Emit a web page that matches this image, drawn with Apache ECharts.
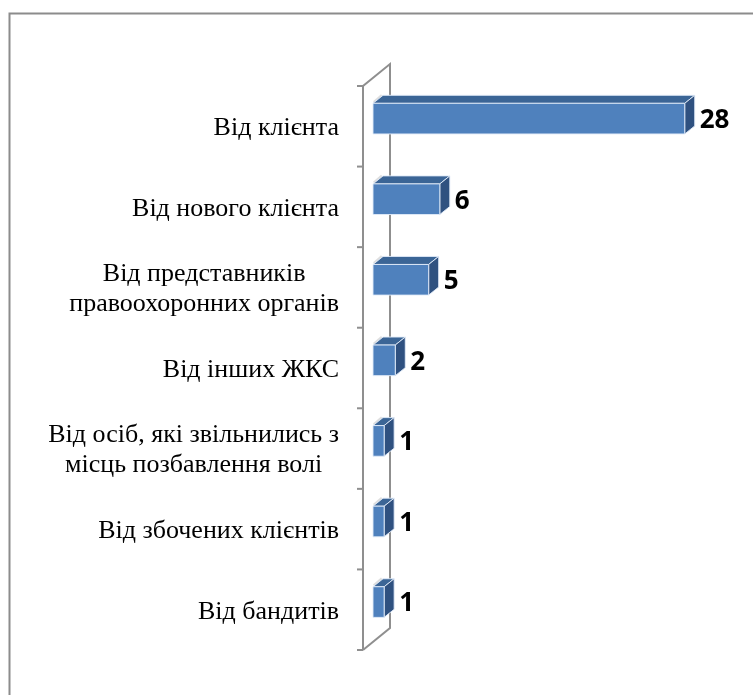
<!DOCTYPE html>
<html>
<head>
<meta charset="utf-8">
<script src="https://cdn.jsdelivr.net/npm/echarts@6/dist/echarts.min.js"></script>
<style>
html,body{margin:0;padding:0;background:#fff;}
#chart{width:753px;height:695px;}
</style>
</head>
<body>
<div id="chart"></div>
<script>
const categories = [
  'Від клієнта',
  'Від нового клієнта',
  'Від представників\nправоохоронних органів',
  'Від інших ЖКС',
  'Від осіб, які звільнились з\nмісць позбавлення волі',
  'Від збочених клієнтів',
  'Від бандитів'
];
const values = [28, 6, 5, 2, 1, 1, 1];

const chart = echarts.init(document.getElementById('chart'), null, {renderer: 'canvas'});

const DX = 10, DY = 8;
const WALL = '#8f8f8f';

function wallItem(params, api) {
  const p = api.coord([0, 0]);
  const band = api.size([0, 1])[1];
  const top = p[1] - band / 2;
  const n = categories.length;
  const bottom = top + band * n;
  const fx = p[0] - 10, bx = fx + 27;
  const children = [{
    type: 'polyline',
    shape: {points: [[fx, bottom], [fx, top], [bx, top - 22], [bx, bottom - 22], [fx, bottom]]},
    style: {stroke: WALL, lineWidth: 2, fill: null}
  }];
  for (let i = 0; i <= n; i++) {
    const y = top + band * i;
    children.push({type: 'line', shape: {x1: fx - 6, y1: y, x2: fx, y2: y},
                   style: {stroke: WALL, lineWidth: 2}});
  }
  return {type: 'group', children: children};
}

function barItem(params, api) {
  const v = api.value(0), c = api.value(1);
  const p0 = api.coord([0, c]);
  const p1 = api.coord([v, c]);
  const band = api.size([0, 1])[1];
  const ft = p0[1] - band * 0.285;
  const fb = ft + band * 0.38;
  const x0 = p0[0], x1 = p1[0];
  const edge = 'rgba(225,235,248,0.9)';
  return {
    type: 'group',
    children: [
      {type: 'line', shape: {x1: x0 + 1, y1: ft - 1, x2: x0 + 9, y2: ft - 8},
       style: {stroke: '#d6d6d6', lineWidth: 3, opacity: 0.8}},
      {type: 'polygon', shape: {points: [[x0, ft], [x1, ft], [x1 + DX, ft - DY], [x0 + DX, ft - DY]]},
       style: {fill: '#3b6596', stroke: edge, lineWidth: 1}},
      {type: 'polygon', shape: {points: [[x1, ft], [x1 + DX, ft - DY], [x1 + DX, fb - DY], [x1, fb]]},
       style: {fill: '#2f5180', stroke: edge, lineWidth: 1}},
      {type: 'rect', shape: {x: x0, y: ft, width: x1 - x0, height: fb - ft},
       style: {fill: '#4f81bd', stroke: edge, lineWidth: 1}},
      {type: 'text', x: x1 + DX + 5, y: (ft + fb) / 2 + 2,
       style: {text: String(v), fill: '#000', font: 'bold 26px "Open Sans", sans-serif',
               textAlign: 'left', textVerticalAlign: 'middle'}}
    ]
  };
}

const LABEL_FONT = '"Liberation Serif", "Times New Roman", serif';

const option = {
  animation: false,
  backgroundColor: '#fff',
  graphic: [{
    type: 'rect', left: 7, top: 11, z: 0,
    shape: {x: 0, y: 0, width: 900, height: 900},
    style: {fill: null, stroke: '#8c8c8c', lineWidth: 2}
  }],
  grid: {left: 373, right: 46, top: 86, bottom: 45, containLabel: false},
  xAxis: {type: 'value', min: 0, max: 30, show: false},
  yAxis: {
    type: 'category',
    data: categories,
    inverse: true,
    axisLine: {show: false},
    axisTick: {show: false},
    splitLine: {show: false},
    axisLabel: {
      margin: 34,
      color: '#000',
      fontSize: 26,
      fontFamily: LABEL_FONT,
      lineHeight: 30,
      align: 'right',
      padding: [4, 0, 0, 0],
      formatter: function (val) {
        const lines = val.split('\n');
        if (lines.length === 1) return val;
        return lines.map(l => '{c|' + l + '}').join('\n');
      },
      rich: {
        c: {align: 'center', fontSize: 26, lineHeight: 30, color: '#000', fontFamily: LABEL_FONT}
      }
    }
  },
  series: [
    {type: 'custom', name: 'wall', renderItem: wallItem, data: [[0, 0]], encode: {x: 0, y: 1}, z: 1, clip: false, silent: true},
    {type: 'custom', name: 'bars', renderItem: barItem, data: values.map((v, i) => [v, i]), encode: {x: 0, y: 1}, z: 2, clip: false}
  ]
};
chart.setOption(option);
</script>
</body>
</html>
